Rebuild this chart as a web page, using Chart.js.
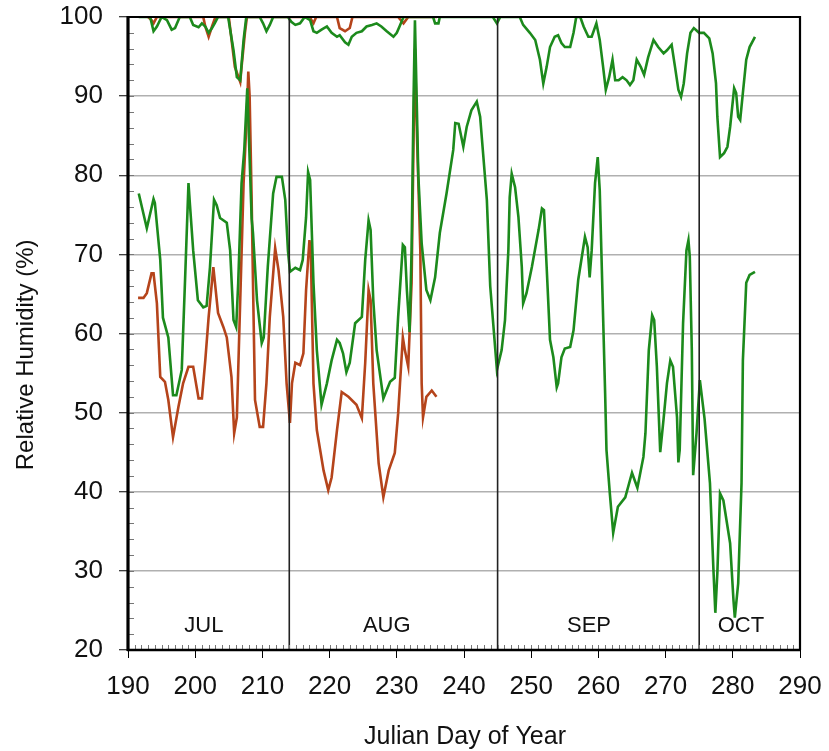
<!DOCTYPE html>
<html><head><meta charset="utf-8">
<script src="https://cdn.jsdelivr.net/npm/chart.js@4.4.0/dist/chart.umd.min.js"></script>
<style>html,body{margin:0;padding:0;background:#fff;}canvas{display:block;}</style>
</head><body>
<canvas id="c" width="829" height="751"></canvas>
<script>
// ---- data (Julian day, relative humidity %) ----
const greenLowDays = [191.6,192.8,193.8,194.0,194.8,195.2,196.0,196.7,197.2,198.0,198.5,199.0,199.2,199.7,200.4,201.2,201.7,202.2,202.8,203.2,203.7,204.7,205.2,205.7,206.1,206.4,206.9,207.3,207.75,208.4,208.6,209.2,209.9,210.2,210.8,211.6,212.1,212.9,213.4,213.8,214.1,214.9,215.6,216.0,216.5,216.8,217.1,217.6,218.1,218.8,219.6,220.3,221.1,221.5,222.0,222.5,223.0,223.8,224.8,225.3,225.8,226.1,226.5,227.0,228.0,229.0,229.7,230.2,230.9,231.2,231.5,231.9,232.2,232.5,232.7,233.0,233.2,233.7,234.4,235.0,235.7,236.4,237.4,238.4,238.7,239.2,239.9,240.4,241.1,241.9,242.4,243.4,243.9,244.9,245.6,246.1,246.6,246.8,247.1,247.6,248.1,248.6,248.8,249.3,250.1,251.1,251.6,251.9,252.3,252.8,253.3,253.8,254.0,254.5,255.0,255.8,256.3,257.0,258.0,258.4,258.7,259.0,259.5,259.9,260.2,260.7,261.0,261.2,261.7,262.2,262.9,264.0,265.0,265.8,266.7,267.0,267.5,268.0,268.3,268.7,269.2,269.7,270.2,270.7,271.1,271.7,271.9,272.1,272.6,273.1,273.4,273.6,273.9,274.1,274.6,275.1,275.8,276.6,277.1,277.4,277.7,278.1,278.6,279.6,280.1,280.3,280.8,281.3,281.5,282.0,282.5,283.3];
const greenLowRH   = [77.7,73.3,77.0,76.5,69.3,62.0,59.5,52.2,52.2,55.4,67.0,79.0,76.5,70.5,64.2,63.3,63.5,68.4,76.9,76.2,74.6,74.0,70.5,61.7,60.8,66.4,79.0,83.2,91.0,74.5,72.7,64.2,58.8,59.5,68.4,77.7,79.8,79.8,76.9,70.5,67.8,68.3,68.0,69.3,74.7,80.4,79.4,66.4,57.9,51.0,53.7,56.6,59.2,58.8,57.5,55.1,56.3,61.3,62.1,69.3,74.3,73.1,64.2,57.9,51.8,53.9,54.4,62.1,71.2,70.9,65.5,60.2,70.5,90.0,99.6,88.0,80.0,71.4,65.5,64.2,67.1,72.7,77.7,83.2,86.6,86.5,83.6,86.1,88.2,89.3,87.4,76.9,66.0,55.4,57.9,61.7,70.5,77.2,80.2,78.5,74.7,68.4,63.8,65.1,68.4,73.1,75.8,75.6,68.4,59.2,57.0,53.2,53.7,57.0,58.1,58.3,60.4,66.8,72.2,70.9,67.1,70.5,79.0,82.3,78.1,62.1,52.5,45.3,39.8,34.8,38.1,39.3,42.4,40.5,44.4,47.4,57.9,62.3,61.7,55.8,45.0,49.2,53.7,56.6,55.8,49.4,43.7,45.3,61.3,70.5,71.8,69.7,57.9,42.1,47.4,54.1,49.2,41.1,30.5,24.7,29.7,39.8,38.9,33.5,26.3,24.1,28.4,41.1,56.6,66.4,67.4,67.8];

const greenHighDays = [191.6,193.3,193.8,194.3,195.0,195.8,196.5,197.0,197.7,199.2,199.7,200.5,201.0,201.5,202.0,202.5,202.9,203.4,204.9,205.7,206.2,206.7,207.2,207.6,209.6,210.1,210.6,211.1,211.6,213.8,214.3,214.9,215.6,216.3,217.1,217.6,218.1,218.8,219.6,220.3,221.1,221.5,222.3,222.8,223.3,224.0,224.8,225.5,226.3,227.0,227.7,228.5,229.5,230.0,230.5,231.0,235.4,235.7,236.2,236.4,244.3,244.9,245.4,248.3,248.8,249.8,250.6,251.3,251.8,252.3,252.8,253.5,254.0,254.5,255.0,255.8,256.3,256.7,257.3,257.8,258.5,259.0,259.7,260.2,260.7,261.1,261.6,262.1,262.5,263.0,263.6,264.2,264.7,265.2,265.7,266.3,266.8,267.4,268.2,268.9,269.7,270.2,270.9,271.4,271.9,272.3,272.7,273.2,273.7,274.2,275.0,275.7,276.5,277.0,277.5,277.7,278.1,278.7,279.2,279.6,280.2,280.5,280.8,281.1,281.5,282.0,282.5,283.3];
const greenHighRH   = [100,100,98.2,98.8,100,99.6,98.4,98.6,100,100,99.0,98.7,99.2,98.8,98.0,98.6,99.2,100,100,95.8,92.4,92.0,97.1,100,100,99.2,98.2,99.0,100,100,99.4,99.0,99.2,100,99.6,98.2,98.0,98.4,98.8,98.0,97.5,97.7,96.8,96.5,97.5,98.0,98.2,98.8,99.0,99.2,98.8,98.2,97.5,98.0,99.0,100,100,99.2,99.2,100,100,99.2,100,100,99.0,98.0,97.1,94.6,91.6,93.7,96.2,97.5,97.7,96.7,96.2,96.2,98.0,100,100,98.8,97.5,97.5,99.2,97.1,93.7,90.8,92.4,94.6,92.0,92.0,92.4,92.0,91.4,92.0,94.6,93.7,92.7,94.9,97.1,96.2,95.4,95.8,96.5,93.7,90.8,89.9,91.6,95.4,98.0,98.6,98.0,98.0,97.3,95.4,91.6,87.4,82.3,82.8,83.6,86.1,91.0,90.4,87.4,87.0,90.4,94.6,96.2,97.5];

const redLowDays = [191.5,192.3,192.8,193.5,193.8,194.3,194.8,195.5,196.0,196.7,197.5,198.2,199.0,199.7,200.5,201.0,201.5,202.0,202.7,203.4,204.2,204.7,205.4,205.8,206.2,206.7,207.2,207.7,207.9,208.1,208.4,208.6,208.9,209.6,210.1,210.6,211.1,211.9,212.4,213.1,213.6,214.1,214.4,214.9,215.6,216.1,216.5,217.0,217.2,217.6,218.1,219.1,219.8,220.3,221.1,221.8,222.8,224.0,224.8,225.3,225.8,226.1,226.5,226.8,227.3,228.0,228.8,229.7,230.2,230.9,231.2,231.7,232.2,232.5,232.7,233.0,233.5,233.7,233.9,234.4,235.2,235.9];
const redLowRH   = [64.5,64.5,65.1,67.6,67.6,63.8,54.5,53.9,51.6,46.9,50.7,53.7,55.8,55.8,51.8,51.8,56.6,62.1,68.4,62.6,60.8,59.5,54.5,47.4,49.4,64.2,79.0,88.0,93.1,90.0,76.9,66.4,51.6,48.2,48.2,53.7,62.1,70.8,68.0,62.1,53.7,48.7,53.7,56.3,56.0,57.5,65.5,71.8,70.5,53.7,47.8,42.7,40.2,41.8,47.8,52.6,52.0,51.0,49.3,56.3,65.5,64.2,53.7,49.9,43.6,39.3,42.7,44.9,49.9,59.5,57.9,55.8,66.4,85.0,96.0,85.0,70.5,53.7,49.4,52.0,52.8,52.0];

const redHighDays = [193.0,193.5,193.8,194.3,201.2,201.5,202.0,202.5,203.0,205.0,205.9,206.7,206.9,207.4,207.7,217.1,217.3,217.6,218.0,221.1,221.5,222.3,223.0,223.4,230.2,231.0,231.7,236.0];
const redHighRH   = [100,99.6,99.2,100,100,98.8,97.5,98.8,100,100,93.7,91.8,93.7,98.0,100,100,99.6,99.2,100,100,98.6,98.2,98.6,100,100,99.2,100,100];

const xTickValues = [190,200,210,220,230,240,250,260,270,280,290];
const yTickValues = [20,30,40,50,60,70,80,90,100];
const monthBoundaries = [214,245,275];
const monthLabels = ['JUL','AUG','SEP','OCT'];
const monthLabelDays = [201.3,228.5,258.6,281.2];
const monthLabelRH = 23.1;
const xTitle = 'Julian Day of Year';
const yTitle = 'Relative Humidity (%)';

const GREEN = '#1c8a1c', RED = '#b5441b';
const pts = (xs, ys) => xs.map((d,i)=>({x:d, y:ys[i]}));
const FONT = '"Liberation Sans", Arial, Helvetica, sans-serif';

const framePlugin = {
  id: 'frame',
  afterDatasetsDraw(chart){
    const {ctx, chartArea:a, scales:{x, y}} = chart;
    ctx.save();
    // month boundaries
    ctx.strokeStyle = '#222'; ctx.lineWidth = 1.6;
    monthBoundaries.forEach(d => {
      const px = x.getPixelForValue(d);
      ctx.beginPath(); ctx.moveTo(px, a.top); ctx.lineTo(px, a.bottom); ctx.stroke();
    });
    // minor ticks
    ctx.strokeStyle = '#777'; ctx.lineWidth = 1;
    for (let v = y.min; v <= y.max; v += 2) {
      const py = Math.round(y.getPixelForValue(v)) + 0.5;
      ctx.beginPath(); ctx.moveTo(a.left, py); ctx.lineTo(a.left + 6, py); ctx.stroke();
    }
    for (let d = x.min; d <= x.max; d += 1) {
      const px = Math.round(x.getPixelForValue(d)) + 0.5;
      ctx.beginPath(); ctx.moveTo(px, a.bottom); ctx.lineTo(px, a.bottom - 5); ctx.stroke();
    }
    // frame
    ctx.strokeStyle = '#000';
    ctx.lineWidth = 2.2;
    ctx.beginPath(); ctx.moveTo(a.left, a.top); ctx.lineTo(a.right, a.top); ctx.lineTo(a.right, a.bottom); ctx.stroke();
    ctx.lineWidth = 2.6;
    ctx.beginPath(); ctx.moveTo(a.left - 1, a.bottom); ctx.lineTo(a.right + 1, a.bottom); ctx.stroke();
    ctx.lineWidth = 3.2;
    ctx.beginPath(); ctx.moveTo(a.left, a.top - 1); ctx.lineTo(a.left, a.bottom + 1); ctx.stroke();
    // month labels
    ctx.fillStyle = '#111'; ctx.font = '22px ' + FONT;
    ctx.textAlign = 'center'; ctx.textBaseline = 'middle';
    monthLabels.forEach((m, i) => {
      ctx.fillText(m, x.getPixelForValue(monthLabelDays[i]), y.getPixelForValue(monthLabelRH));
    });
    // axis titles
    ctx.font = '25px ' + FONT;
    ctx.fillText(xTitle, (a.left + a.right) / 2 + 1, 737);
    ctx.save();
    ctx.translate(26, y.getPixelForValue(57.3));
    ctx.rotate(-Math.PI / 2);
    ctx.font = '24px ' + FONT;
    ctx.fillText(yTitle, 0, 0);
    ctx.restore();
    ctx.restore();
  }
};

new Chart(document.getElementById('c'), {
  type: 'line',
  data: {
    datasets: [
      {label:'green low', data: pts(greenLowDays, greenLowRH), borderColor: GREEN},
      {label:'green high', data: pts(greenHighDays, greenHighRH), borderColor: GREEN},
      {label:'red low', data: pts(redLowDays, redLowRH), borderColor: RED},
      {label:'red high', data: pts(redHighDays, redHighRH), borderColor: RED}
    ].map(ds => Object.assign(ds, {borderWidth: 2.6, pointRadius: 0, tension: 0, fill: false}))
  },
  options: {
    responsive: false,
    animation: false,
    events: [],
    layout: {padding: {left: 0, top: 17, right: 29, bottom: 0}},
    plugins: {legend: {display: false}, tooltip: {enabled: false}},
    scales: {
      x: {
        type: 'linear', min: 190, max: 290,
        afterBuildTicks: s => { s.ticks = xTickValues.map(v => ({value: v})); },
        afterFit: s => { s.height = 101; s.paddingLeft = 0; s.paddingRight = 0; },
        grid: {drawOnChartArea: false, drawTicks: true, tickLength: 8, tickColor: '#000', tickWidth: 1},
        border: {display: false},
        ticks: {color: '#111', font: {family: FONT, size: 26}, padding: 13, maxRotation: 0},
        title: {display: false}
      },
      y: {
        type: 'linear', min: 20, max: 100,
        afterBuildTicks: s => { s.ticks = yTickValues.map(v => ({value: v})); },
        afterFit: s => { s.width = 128; s.paddingTop = 0; s.paddingBottom = 0; },
        grid: {color: '#b0b0b0', lineWidth: 1.5, drawTicks: true, tickLength: 9, tickColor: '#000', tickWidth: 1},
        border: {display: false},
        ticks: {color: '#111', font: {family: FONT, size: 26}, padding: 16},
        title: {display: false}
      }
    }
  },
  plugins: [framePlugin]
});
</script>
</body></html>
